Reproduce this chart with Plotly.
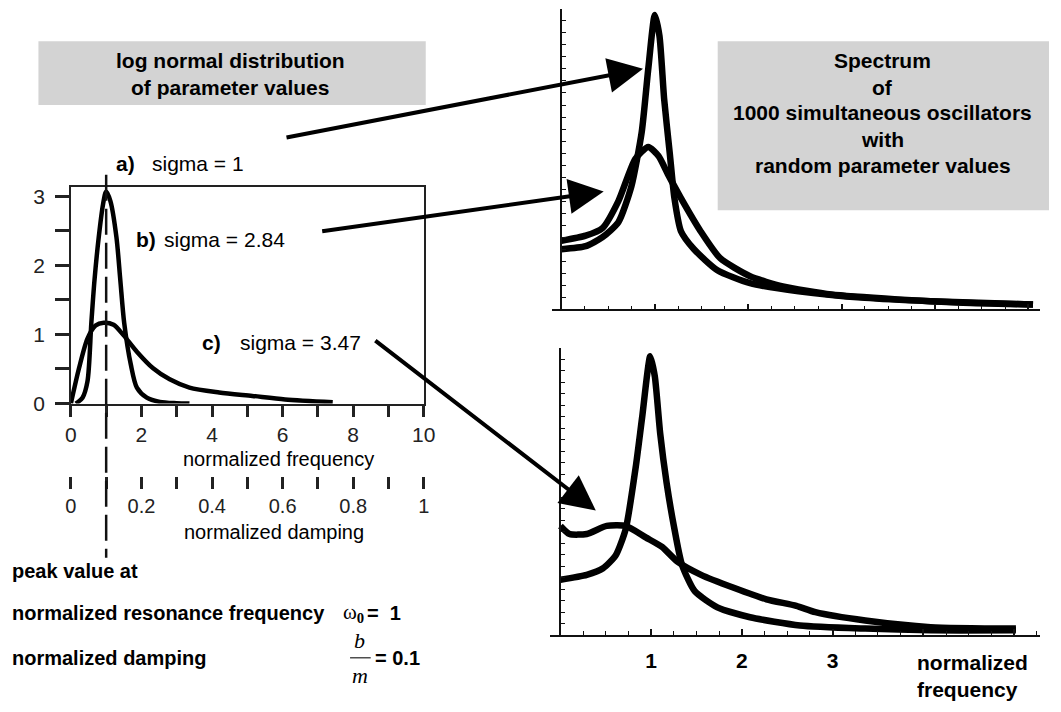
import plotly.graph_objects as go

W, H = 1061, 712
def fx(px): return px / W
def fy(py): return 1 - py / H

FONT = "Liberation Sans, Arial, sans-serif"
SERIF = "Liberation Serif, Times New Roman, serif"

# ---- left panel: log-normal distributions (normalized frequency) ----
dist_a_x = [0.14, 0.33, 0.47, 0.58, 0.67, 0.79, 0.91, 1.0, 1.12, 1.29, 1.4, 1.51, 1.7, 1.87, 2.15, 2.52, 2.99, 3.36]
dist_a_y = [0.0, 0.085, 0.32, 1.17, 1.79, 2.41, 2.88, 3.07, 2.93, 2.41, 1.79, 1.17, 0.56, 0.23, 0.085, 0.024, 0.005, 0.0]
dist_b_x = [0.0, 0.23, 0.47, 0.7, 0.93, 1.21, 1.49, 1.87, 2.33, 2.8, 3.36, 4.2, 5.14, 6.07, 7.42]
dist_b_y = [0.0, 0.51, 0.94, 1.13, 1.17, 1.14, 0.99, 0.75, 0.51, 0.35, 0.23, 0.16, 0.11, 0.06, 0.02]

freq_ticks = [0, 1, 2, 3, 4, 5, 6, 7, 8, 9, 10]
freq_labels = ["0", "", "2", "", "4", "", "6", "", "8", "", "10"]
damp_ticks = [0, 0.1, 0.2, 0.3, 0.4, 0.5, 0.6, 0.7, 0.8, 0.9, 1.0]
damp_labels = ["0", "", "0.2", "", "0.4", "", "0.6", "", "0.8", "", "1"]
dens_ticks = [0, 0.5, 1, 1.5, 2, 2.5, 3]
dens_labels = ["0", "", "1", "", "2", "", "3"]

# ---- top right spectrum (sigma = 1 and sigma = 2.84) ----
spec_a_x = [0.0, 0.26, 0.44, 0.61, 0.75, 0.86, 0.93, 1.0, 1.05, 1.1, 1.16, 1.21, 1.28, 1.42, 1.67, 2.02, 2.54, 3.25, 3.95, 4.47, 5.05]
spec_a_y = [0.20, 0.21, 0.24, 0.29, 0.41, 0.59, 0.80, 0.98, 0.91, 0.70, 0.52, 0.37, 0.26, 0.20, 0.13, 0.087, 0.06, 0.038, 0.027, 0.022, 0.016]
spec_b_x = [0.0, 0.26, 0.44, 0.61, 0.79, 0.93, 1.04, 1.14, 1.28, 1.49, 1.7, 2.02, 2.37, 2.89, 3.6, 4.3, 5.05]
spec_b_y = [0.228, 0.245, 0.27, 0.36, 0.50, 0.54, 0.51, 0.45, 0.37, 0.26, 0.17, 0.11, 0.076, 0.049, 0.033, 0.022, 0.016]

# ---- bottom right spectrum (sigma = 1 and sigma = 3.47) ----
spec_c1_x = [0.0, 0.29, 0.47, 0.61, 0.72, 0.83, 0.9, 0.99, 1.04, 1.1, 1.17, 1.25, 1.34, 1.48, 1.73, 2.09, 2.64, 3.36, 4.08, 5.02]
spec_c1_y = [0.193, 0.21, 0.233, 0.278, 0.37, 0.585, 0.756, 0.97, 0.90, 0.70, 0.53, 0.38, 0.244, 0.153, 0.097, 0.0625, 0.034, 0.023, 0.017, 0.017]
spec_c2_x = [0.0, 0.1, 0.29, 0.51, 0.72, 0.94, 1.12, 1.29, 1.55, 1.91, 2.27, 2.6, 2.81, 3.36, 4.08, 5.02]
spec_c2_y = [0.38, 0.352, 0.352, 0.38, 0.38, 0.34, 0.307, 0.256, 0.21, 0.165, 0.125, 0.102, 0.08, 0.051, 0.028, 0.023]
spec_ticks = [0, 1, 2, 3, 4, 5]
spec_labels = ["", "1", "2", "3", "", ""]

fig = go.Figure()
for xs, ys in [(dist_a_x, dist_a_y), (dist_b_x, dist_b_y)]:
    fig.add_trace(go.Scatter(x=xs, y=ys, mode="lines", line=dict(color="black", width=4.5, shape="spline", smoothing=0.8),
                             xaxis="x", yaxis="y", showlegend=False, hoverinfo="skip"))
for xs, ys in [(spec_a_x, spec_a_y), (spec_b_x, spec_b_y)]:
    fig.add_trace(go.Scatter(x=xs, y=ys, mode="lines", line=dict(color="black", width=6.5, shape="spline", smoothing=0.6),
                             xaxis="x3", yaxis="y3", showlegend=False, hoverinfo="skip"))
for xs, ys in [(spec_c1_x, spec_c1_y), (spec_c2_x, spec_c2_y)]:
    fig.add_trace(go.Scatter(x=xs, y=ys, mode="lines", line=dict(color="black", width=6.5, shape="spline", smoothing=0.6),
                             xaxis="x4", yaxis="y4", showlegend=False, hoverinfo="skip"))
# invisible trace to activate damping axis
fig.add_trace(go.Scatter(x=[0, 1], y=[None, None], xaxis="x2", yaxis="y", showlegend=False, hoverinfo="skip"))

tickfont = dict(family=FONT, size=21, color="#222")
dampfont = dict(family=FONT, size=20, color="#222")
boldtick = dict(family=FONT, size=21, color="black", weight="bold")
common = dict(showgrid=False, zeroline=False)

# right-panel geometry
x3_dom = (555, 1052); x3_zero, x3_unit = 565, 95.0
x4_dom = (553, 1052); x4_zero, x4_unit = 564, 92.3

fig.update_layout(
    width=W, height=H, margin=dict(l=0, r=0, t=0, b=0),
    paper_bgcolor="white", plot_bgcolor="rgba(0,0,0,0)",
    xaxis=dict(domain=[fx(66), fx(425)], range=[0, 10], anchor="y", showline=True, mirror=True,
               linecolor="#222", linewidth=1.5, ticks="outside", ticklen=12, tickwidth=2.5, tickcolor="#222",
               tickvals=freq_ticks, ticktext=freq_labels, tickfont=tickfont, ticklabelstandoff=0, **common),
    yaxis=dict(domain=[fy(409), fy(188)], range=[0, 3.14], anchor="x", showline=True, mirror=True,
               linecolor="#222", linewidth=1.5, ticks="outside", ticklen=14, tickwidth=2.5, tickcolor="#222",
               tickvals=dens_ticks, ticktext=dens_labels, tickfont=tickfont, ticklabelstandoff=6, **common),
    xaxis2=dict(overlaying="x", anchor="free", position=fy(483), side="bottom", range=[0, 1], showline=False,
                ticks="outside", ticklen=12, tickwidth=2.5, tickcolor="#222",
                tickvals=damp_ticks, ticktext=damp_labels, tickfont=dampfont, ticklabelstandoff=0, **common),
    xaxis3=dict(domain=[fx(x3_dom[0]), fx(x3_dom[1])],
                range=[(x3_dom[0] - x3_zero) / x3_unit, (x3_dom[1] - x3_zero) / x3_unit],
                anchor="y3", showline=True, linecolor="#111", linewidth=1.5, ticks="inside", ticklen=6,
                tickwidth=1.5, tickcolor="#111", tickvals=spec_ticks, showticklabels=False,
                minor=dict(dtick=0.25, tick0=0, ticks="inside", ticklen=4, tickcolor="#111", tickwidth=1.2), **common),
    yaxis3=dict(domain=[fy(313), fy(7)], range=[0, 1], anchor="free", position=fx(x3_zero), showline=True,
                linecolor="#111", linewidth=1.5, ticks="inside", ticklen=4, tickwidth=1.2, tickcolor="#111",
                dtick=0.04, showticklabels=False, **common),
    xaxis4=dict(domain=[fx(x4_dom[0]), fx(x4_dom[1])],
                range=[(x4_dom[0] - x4_zero) / x4_unit, (x4_dom[1] - x4_zero) / x4_unit],
                anchor="y4", showline=True, linecolor="#111", linewidth=1.5, ticks="inside", ticklen=6,
                tickwidth=1.5, tickcolor="#111", tickvals=spec_ticks, ticktext=spec_labels, tickfont=boldtick,
                ticklabelstandoff=6,
                minor=dict(dtick=0.25, tick0=0, ticks="inside", ticklen=4, tickcolor="#111", tickwidth=1.2), **common),
    yaxis4=dict(domain=[fy(645), fy(352)], range=[0, 1], anchor="free", position=fx(x4_zero), showline=True,
                linecolor="#111", linewidth=1.5, ticks="inside", ticklen=4, tickwidth=1.2, tickcolor="#111",
                dtick=0.04, showticklabels=False, **common),
)

shapes = [
    dict(type="rect", xref="paper", yref="paper", x0=fx(33), x1=fx(427), y0=fy(105), y1=fy(40),
         fillcolor="#d3d3d3", line=dict(width=0), layer="below"),
    dict(type="rect", xref="paper", yref="paper", x0=fx(724), x1=fx(1061), y0=fy(212), y1=fy(40),
         fillcolor="#d3d3d3", line=dict(width=0), layer="below"),
    dict(type="line", xref="x", yref="paper", x0=1, x1=1, y0=fy(176), y1=fy(566),
         line=dict(color="#111", width=2.5, dash="26px,8px")),
    dict(type="line", xref="paper", yref="paper", x0=fx(350), x1=fx(371), y0=fy(668), y1=fy(668),
         line=dict(color="#222", width=1.2)),
]
fig.update_layout(shapes=shapes)

ann = []
def txt(x, y, s, size=21, bold=False, xanchor="center", family=FONT, italic=False, color="black"):
    if bold:
        s = "<b>" + s + "</b>"
    if italic:
        s = "<i>" + s + "</i>"
    ann.append(dict(x=fx(x), y=fy(y), xref="paper", yref="paper", text=s, showarrow=False,
                    xanchor=xanchor, yanchor="middle", borderpad=0,
                    font=dict(family=family, size=size, color=color)))

txt(228, 60, "log normal distribution", bold=True)
txt(228, 87, "of parameter values", bold=True)
for yy, line in zip([60, 87, 113, 140, 167],
                    ["Spectrum", "of", "1000 simultaneous oscillators", "with", "random parameter values"]):
    txt(892, yy, line, bold=True)

txt(111, 165, "a)", bold=True, xanchor="left")
txt(148, 165, "sigma = 1", xanchor="left")
txt(131, 242, "b)", bold=True, xanchor="left")
txt(160, 242, "sigma = 2.84", xanchor="left")
txt(198, 347, "c)", bold=True, xanchor="left")
txt(237, 347, "sigma = 3.47", xanchor="left")
txt(277, 466, "normalized frequency", size=20)
txt(273, 540, "normalized damping", size=20)

txt(5, 580, "peak value at", bold=True, xanchor="left", size=20)
txt(5, 622, "normalized resonance frequency", bold=True, xanchor="left", size=20)
txt(342, 622, "ω<sub><b>0</b></sub>", family=SERIF, xanchor="left")
txt(366, 622, "=  1", bold=True, xanchor="left", size=20)
txt(5, 668, "normalized damping", bold=True, xanchor="left", size=20)
txt(360, 650, "b", italic=True, family=SERIF, size=22)
txt(360, 686, "m", italic=True, family=SERIF, size=22)
txt(374, 668, "= 0.1", bold=True, xanchor="left", size=20)

txt(983, 673, "normalized", bold=True)
txt(978, 700, "frequency", bold=True)

for tip, start in [((648, 68), (290, 137)), ((608, 193), (325, 233)), ((600, 518), (378, 347))]:
    ann.append(dict(x=fx(tip[0]), y=fy(tip[1]), xref="paper", yref="paper", text="", showarrow=True,
                    ax=start[0] - tip[0], ay=start[1] - tip[1], axref="pixel", ayref="pixel",
                    arrowhead=2, arrowsize=1.75, arrowwidth=4, arrowcolor="black", standoff=0))
fig.update_layout(annotations=ann)

fig.write_html("out.html")
